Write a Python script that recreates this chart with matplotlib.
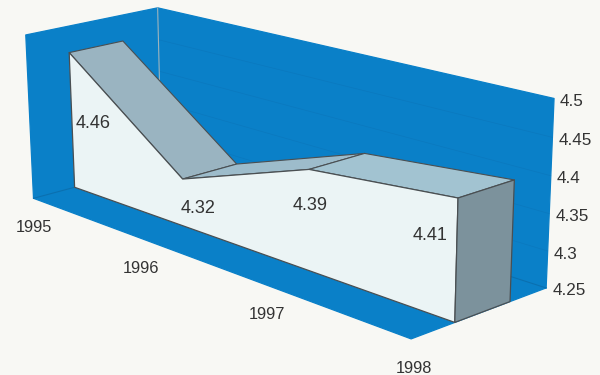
import numpy as np
import matplotlib
matplotlib.use("Agg")
import matplotlib.pyplot as plt
from matplotlib.patches import Polygon

plt.rcParams['font.family'] = ['Liberation Sans', 'DejaVu Sans']

years = [1995, 1996, 1997, 1998]
values = [4.46, 4.32, 4.39, 4.41]
z_ticks = [4.25, 4.3, 4.35, 4.4, 4.45, 4.5]
value_labels = ['4.46', '4.32', '4.39', '4.41']
z_labels = ['4.25', '4.3', '4.35', '4.4', '4.45', '4.5']

# Camera of the 3D box: box corners (year, value, depth) -> picture pixels
Y0, Y1, Z0, Z1 = years[0], years[-1], z_ticks[0], z_ticks[-1]
CAL = [((Y0, Z0, 0), (33, 199)), ((Y1, Z0, 0), (413, 339)), ((Y1, Z0, 1), (545, 287)),
       ((Y0, Z1, 0), (27, 33)), ((Y0, Z1, 1), (157, 9)), ((Y1, Z1, 1), (556, 98)),
       ((Y1, Z1, 0), (412, 140))]
D_FRONT, D_BACK = 0.31, 0.72


def norm(t, z, d):
    return (t - Y0) / (Y1 - Y0), (z - Z0) / (Z1 - Z0), d


rows = []
for (t, z, d), (u, v) in CAL:
    a, b, c = norm(t, z, d)
    rows.append([a, b, c, 1, 0, 0, 0, 0, -u * a, -u * b, -u * c, -u])
    rows.append([0, 0, 0, 0, a, b, c, 1, -v * a, -v * b, -v * c, -v])
P = np.linalg.svd(np.array(rows, float))[2][-1].reshape(3, 4)


def proj(t, z, d):
    q = P @ np.array([*norm(t, z, d), 1.0])
    return q[0] / q[2], q[1] / q[2]


fig = plt.figure(figsize=(6, 3.75), dpi=100, facecolor='#f8f8f4')
ax = fig.add_axes([0, 0, 1, 1])
ax.set_xlim(0, 600)
ax.set_ylim(375, 0)
ax.axis('off')

BLUE = '#0a80c8'
EDGE = '#4a4f52'


def face(pts, color, edge=None, lw=0.9, z=1):
    ax.add_patch(Polygon([proj(*p) for p in pts], closed=True, facecolor=color,
                         edgecolor=edge if edge else color, linewidth=lw,
                         joinstyle='round', zorder=z))


# walls and floor
face([(Y0, Z0, 0), (Y0, Z1, 0), (Y0, Z1, 1), (Y0, Z0, 1)], BLUE, z=1)
face([(Y0, Z0, 1), (Y0, Z1, 1), (Y1, Z1, 1), (Y1, Z0, 1)], BLUE, z=1)
face([(Y0, Z0, 0), (Y1, Z0, 0), (Y1, Z0, 1), (Y0, Z0, 1)], BLUE, z=1)

# faint gridlines and wall joints
for zt in z_ticks[1:-1]:
    a, b = proj(Y0, zt, 1), proj(Y1, zt, 1)
    ax.plot([a[0], b[0]], [a[1], b[1]], color='#0a74b8', lw=0.5, alpha=0.6, zorder=2)
for a, b, col in [((Y0, Z0, 1), (Y0, Z1, 1), '#9db4bd'),
                  ((Y0, Z0, 1), (Y1, Z0, 1), '#0a70b0'),
                  ((Y0, Z0, 0), (Y0, Z0, 1), '#0a70b0')]:
    pa, pb = proj(*a), proj(*b)
    ax.plot([pa[0], pb[0]], [pa[1], pb[1]], color=col, lw=0.8, zorder=2)

# area solid
TOP = ['#9ab4c1', '#9dbccb', '#a2c3d1']
for i in range(len(years) - 1):
    t0, t1, v0, v1 = years[i], years[i + 1], values[i], values[i + 1]
    face([(t0, v0, D_FRONT), (t1, v1, D_FRONT), (t1, v1, D_BACK), (t0, v0, D_BACK)],
         TOP[i], EDGE, 0.8, z=3)
front = [(Y0, Z0, D_FRONT)] + [(t, v, D_FRONT) for t, v in zip(years, values)] + [(Y1, Z0, D_FRONT)]
face(front, '#ebf4f5', EDGE, 0.9, z=4)
face([(Y1, Z0, D_FRONT), (Y1, values[-1], D_FRONT), (Y1, values[-1], D_BACK), (Y1, Z0, D_BACK)],
     '#7c929c', EDGE, 0.9, z=4)

# text
TXT = '#333333'
label_off = [(24, 71), (15, 29), (1, 36), (-28, 38)]
for t, v, s, (dx, dy) in zip(years, values, value_labels, label_off):
    x, y = proj(t, v, D_FRONT)
    ax.text(x + dx, y + dy, s, fontsize=13, color=TXT, ha='center', va='center', zorder=5)
year_off = [(0, 29), (-1, 30), (1, 30), (3, 30)]
for t, (dx, dy) in zip(years, year_off):
    x, y = proj(t, Z0, 0)
    ax.text(x + dx, y + dy, str(t), fontsize=11.8, color=TXT, ha='center', va='center', zorder=5)
for zt, s in zip(z_ticks, z_labels):
    x, y = proj(Y1, zt, 1)
    ax.text(x + 6, y + 3, s, fontsize=12.3, color=TXT, ha='left', va='center', zorder=5)

fig.savefig('out.png', dpi=100, facecolor=fig.get_facecolor())
